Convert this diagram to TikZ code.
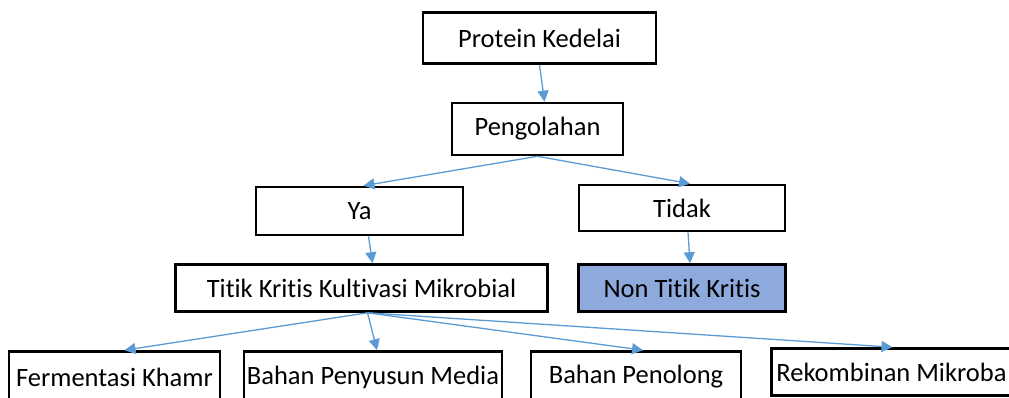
\documentclass[tikz,border=0pt]{standalone}
\usepackage{fontspec}
\setmainfont{Carlito}[Ligatures={NoCommon}]
\usetikzlibrary{arrows.meta}
\definecolor{panahbiru}{HTML}{5B9BD5}
\definecolor{isibiru}{HTML}{8EA9DB}

\begin{document}
\begin{tikzpicture}[x=1pt, y=-1pt,
    kotak/.style={draw, line width=2.6pt, inner sep=0pt, font=\fontsize{26.5}{31}\selectfont},
    panah/.style={-{Triangle[length=11pt,width=11pt]}, draw=panahbiru, line width=1.3pt}]
\useasboundingbox (0,0) rectangle (1009,398);
\clip (0,0) rectangle (1009,398);

\node[kotak, minimum width=233pt, minimum height=51pt] (protein) at (539.5,38) {Protein Kedelai};
\node[kotak, minimum width=171pt, minimum height=52pt] (olah) at (537.5,129) {Pengolahan};
\node[kotak, minimum width=207pt, minimum height=48pt] (ya) at (359.5,211) {Ya};
\node[kotak, minimum width=206pt, minimum height=46pt] (tidak) at (682,208) {Tidak};
\node[kotak, minimum width=372pt, minimum height=47pt] (titik) at (361.5,288) {Titik Kritis Kultivasi Mikrobial};
\node[kotak, fill=isibiru, minimum width=207pt, minimum height=47pt] (non) at (682,288) {Non Titik Kritis};

% baris bawah
\foreach \nama/\x/\w/\teks in {ferm/114.5/211/Fermentasi Khamr,
    media/373/258/Bahan Penyusun Media, tolong/636/210/Bahan Penolong}
{
    \node[kotak, minimum width=\w pt, minimum height=51pt] (\nama) at (\x,377) {\teks};
}
\node[kotak, minimum width=240pt, minimum height=47pt] (mikroba) at (891.5,372) {Rekombinan Mikroba};

\draw[panah] (protein.south) -- ([xshift=7pt]olah.north);
\draw[panah] (olah.south) -- ([xshift=4pt]ya.north);
\draw[panah] (olah.south) -- ([xshift=8pt]tidak.north);
\draw[panah] ([xshift=9pt]ya.south) -- ([xshift=11pt]titik.north);
\draw[panah] ([xshift=6pt]tidak.south) -- ([xshift=8pt]non.north);

\draw[panah] ([xshift=6pt]titik.south) -- ([xshift=10pt]ferm.north);
\draw[panah] ([xshift=6pt]titik.south) -- ([xshift=4pt]media.north);
\draw[panah] ([xshift=6pt]titik.south) -- ([xshift=7pt]tolong.north);
\draw[panah] ([xshift=6pt]titik.south) -- ([xshift=1pt]mikroba.north);

\end{tikzpicture}
\end{document}
